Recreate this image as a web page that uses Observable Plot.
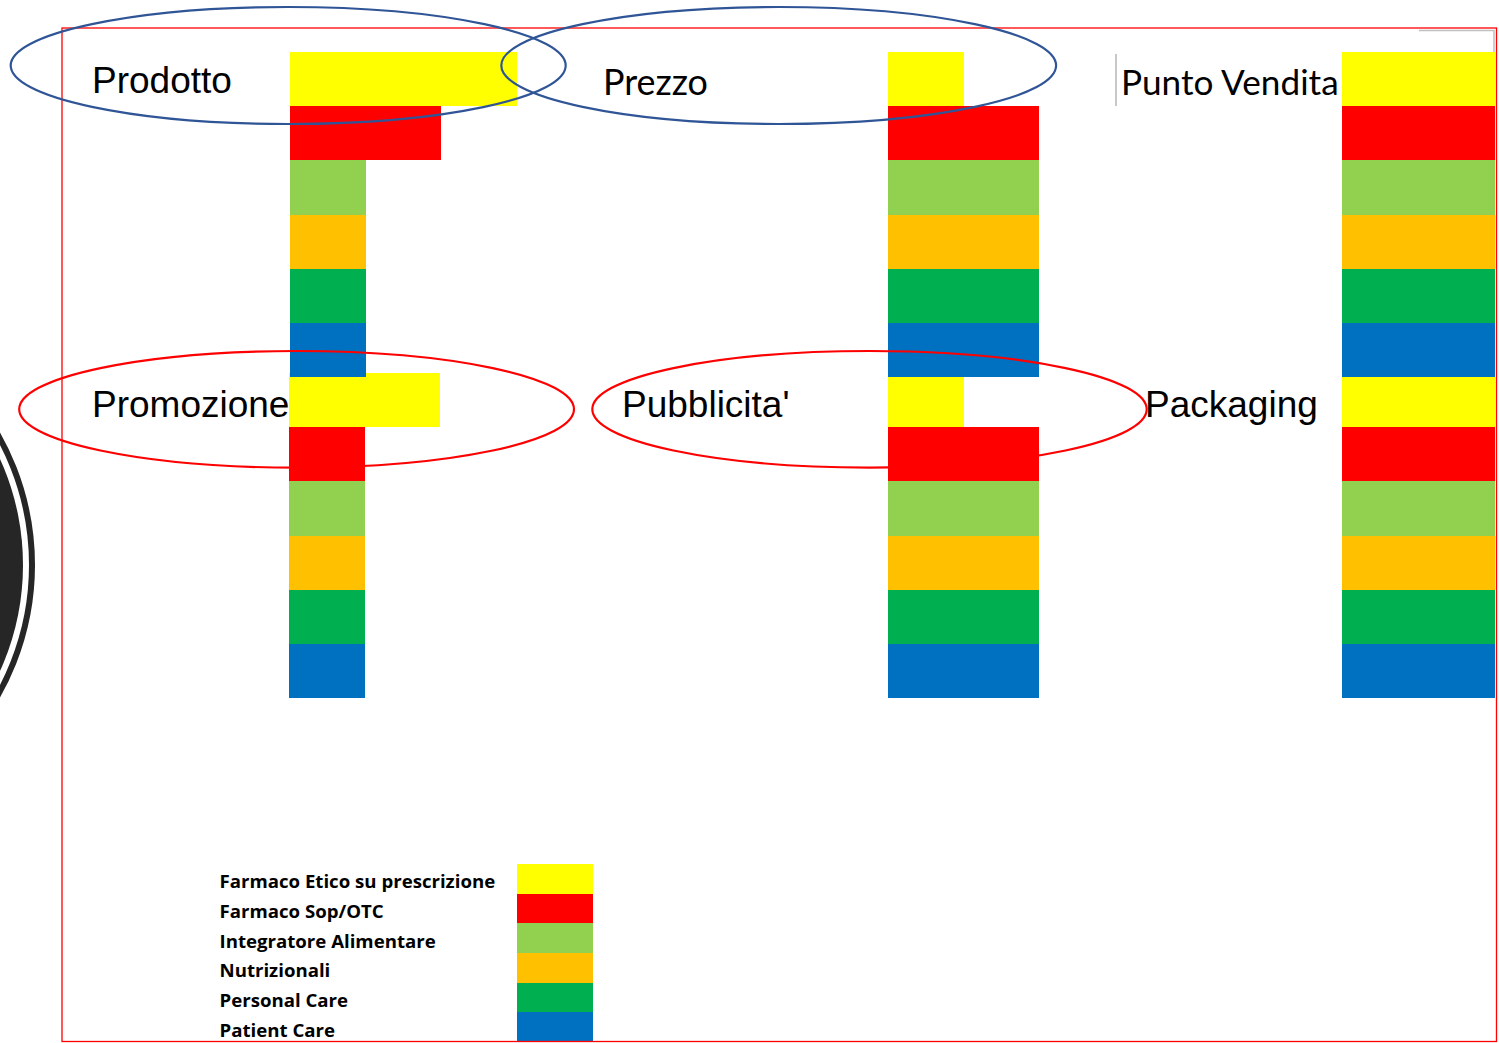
<!DOCTYPE html>
<html><head><meta charset="utf-8">
<script src="https://cdn.jsdelivr.net/npm/d3@7"></script>
<script src="https://cdn.jsdelivr.net/npm/@observablehq/plot@0.6"></script>
<style>
html,body{margin:0;padding:0;background:#fff;}
#root{position:relative;width:1499px;height:1043px;overflow:hidden;background:#fff;}
#root svg{position:absolute;display:block;}
</style></head>
<body><div id="root"></div>
<script>
// ---- data ----
const categories = ["Farmaco Etico su prescrizione", "Farmaco Sop/OTC", "Integratore Alimentare", "Nutrizionali", "Personal Care", "Patient Care"];
const colors = ["#FFFF00", "#FF0000", "#92D050", "#FFC000", "#00B050", "#0070C0"];
const panelNames = ["Prodotto", "Prezzo", "Punto Vendita", "Promozione", "Pubblicita'", "Packaging"];
const prodotto = [3, 2, 1, 1, 1, 1];
const prezzo = [1, 2, 2, 2, 2, 2];
const puntoVendita = [2, 2, 2, 2, 2, 2];
const promozione = [2, 1, 1, 1, 1, 1];
const pubblicita = [1, 2, 2, 2, 2, 2];
const packaging = [2, 2, 2, 2, 2, 2];

// ---- helpers ----
const ctx = document.createElement("canvas").getContext("2d");
function fitSize(text, family, weight, target, base = 20) {
  ctx.font = `${weight} ${base}px ${family}`;
  const w = ctx.measureText(text).width;
  return w > 0 ? base * target / w : base;
}

// ---- layout ----
const UNIT = 75.5;
const root = document.getElementById("root");
const arial = "'Liberation Sans', Arial, sans-serif";
const calibri = "Lato, 'Open Sans', sans-serif";
const legendFont = "'Open Sans', Lato, sans-serif";
const panels = [
  {name: panelNames[3], values: promozione, left: 289, top: 373, unit: UNIT, label: {x: 92, y: 417, font: arial, size: 37}},
  {name: panelNames[4], values: pubblicita, left: 888, top: 373, unit: UNIT, label: {x: 622, y: 417, font: arial, size: 37}},
  {name: panelNames[5], values: packaging, left: 1342, top: 373, unit: 76.5, label: {x: 1145, y: 417, font: arial, size: 37}},
  {name: panelNames[0], values: prodotto, left: 290, top: 52, unit: UNIT, label: {x: 92, y: 93, font: arial, size: 37}},
  {name: panelNames[1], values: prezzo, left: 888, top: 52, unit: UNIT, label: {x: 603, y: 95, font: calibri, width: 105}},
  {name: panelNames[2], values: puntoVendita, left: 1342, top: 52, unit: 76.5, label: {x: 1121, y: 95, font: calibri, width: 219}}
];

const colorScale = {domain: categories, range: colors};

panels.forEach(p => {
  const data = categories.map((c, i) => ({cat: c, v: p.values[i]}));
  const svg = Plot.plot({
    width: 232, height: 325, margin: 0,
    x: {domain: [0, 3], range: [0, 3 * p.unit], axis: null},
    y: {domain: categories, axis: null, padding: 0, round: false},
    color: colorScale,
    style: {background: "transparent"},
    marks: [Plot.barX(data, {x: "v", y: "cat", fill: "cat", inset: 0, shapeRendering: "crispEdges"})]
  });
  svg.style.left = p.left + "px";
  svg.style.top = p.top + "px";
  root.appendChild(svg);
});

// legend (drawn with Plot)
const legendSize = Math.min(20, fitSize(categories[0], legendFont, "bold", 276));
const legend = Plot.plot({
  width: 390, height: 178, margin: 0,
  x: {domain: [0, 1], range: [307, 383], axis: null},
  y: {domain: categories, axis: null, padding: 0, round: false},
  color: colorScale,
  style: {background: "transparent"},
  marks: [
    Plot.barX(categories, {x1: 0, x2: 1, y: d => d, fill: d => d, inset: 0, shapeRendering: "crispEdges"}),
    Plot.text(categories, {y: d => d, text: d => d, frameAnchor: "left", textAnchor: "start", dx: 9, dy: 3,
      fontFamily: legendFont, fontWeight: "bold", fontSize: legendSize, fill: "#000"})
  ]
});
legend.style.left = "210px";
legend.style.top = "864px";
root.appendChild(legend);

// ---- decorative overlay ----
const ov = d3.select(root).append("svg")
  .attr("width", 1499).attr("height", 1043)
  .style("left", "0px").style("top", "0px").style("pointer-events", "none");

// black disc at left edge
ov.append("circle").attr("cx", -233).attr("cy", 565).attr("r", 265).attr("fill", "none").attr("stroke", "#262626").attr("stroke-width", 6);
ov.append("circle").attr("cx", -233).attr("cy", 565).attr("r", 256).attr("fill", "#262626");

// frame
ov.append("rect").attr("x", 62).attr("y", 28).attr("width", 1434.5).attr("height", 1013.5)
  .attr("fill", "none").attr("stroke", "#ff0000").attr("stroke-width", 1.3);
ov.append("polyline").attr("points", "1419,30.5 1494,30.5 1494,52").attr("fill", "none").attr("stroke", "#c0c0c0").attr("stroke-width", 1.5);
ov.append("line").attr("x1", 1116).attr("x2", 1116).attr("y1", 54).attr("y2", 106).attr("stroke", "#c8c8c8").attr("stroke-width", 2);

// labels
panels.forEach(p => {
  const size = p.label.size || fitSize(p.name, p.label.font, "normal", p.label.width);
  ov.append("text").attr("x", p.label.x).attr("y", p.label.y)
    .attr("font-family", p.label.font).attr("font-size", size).attr("fill", "#000")
    .text(p.name);
});

// ellipses
const ells = [
  {cx: 288.2, cy: 65.5, rx: 277.5, ry: 58.5, c: "#2F5597"},
  {cx: 778.7, cy: 65.5, rx: 277.4, ry: 58.5, c: "#2F5597"},
  {cx: 296.6, cy: 409.3, rx: 277.4, ry: 58.3, c: "#FF0000"},
  {cx: 869.5, cy: 409.3, rx: 277.2, ry: 58.3, c: "#FF0000"}
];
ells.forEach(e => ov.append("ellipse").attr("cx", e.cx).attr("cy", e.cy).attr("rx", e.rx).attr("ry", e.ry)
  .attr("fill", "none").attr("stroke", e.c).attr("stroke-width", 2.2));
</script>
</body></html>
